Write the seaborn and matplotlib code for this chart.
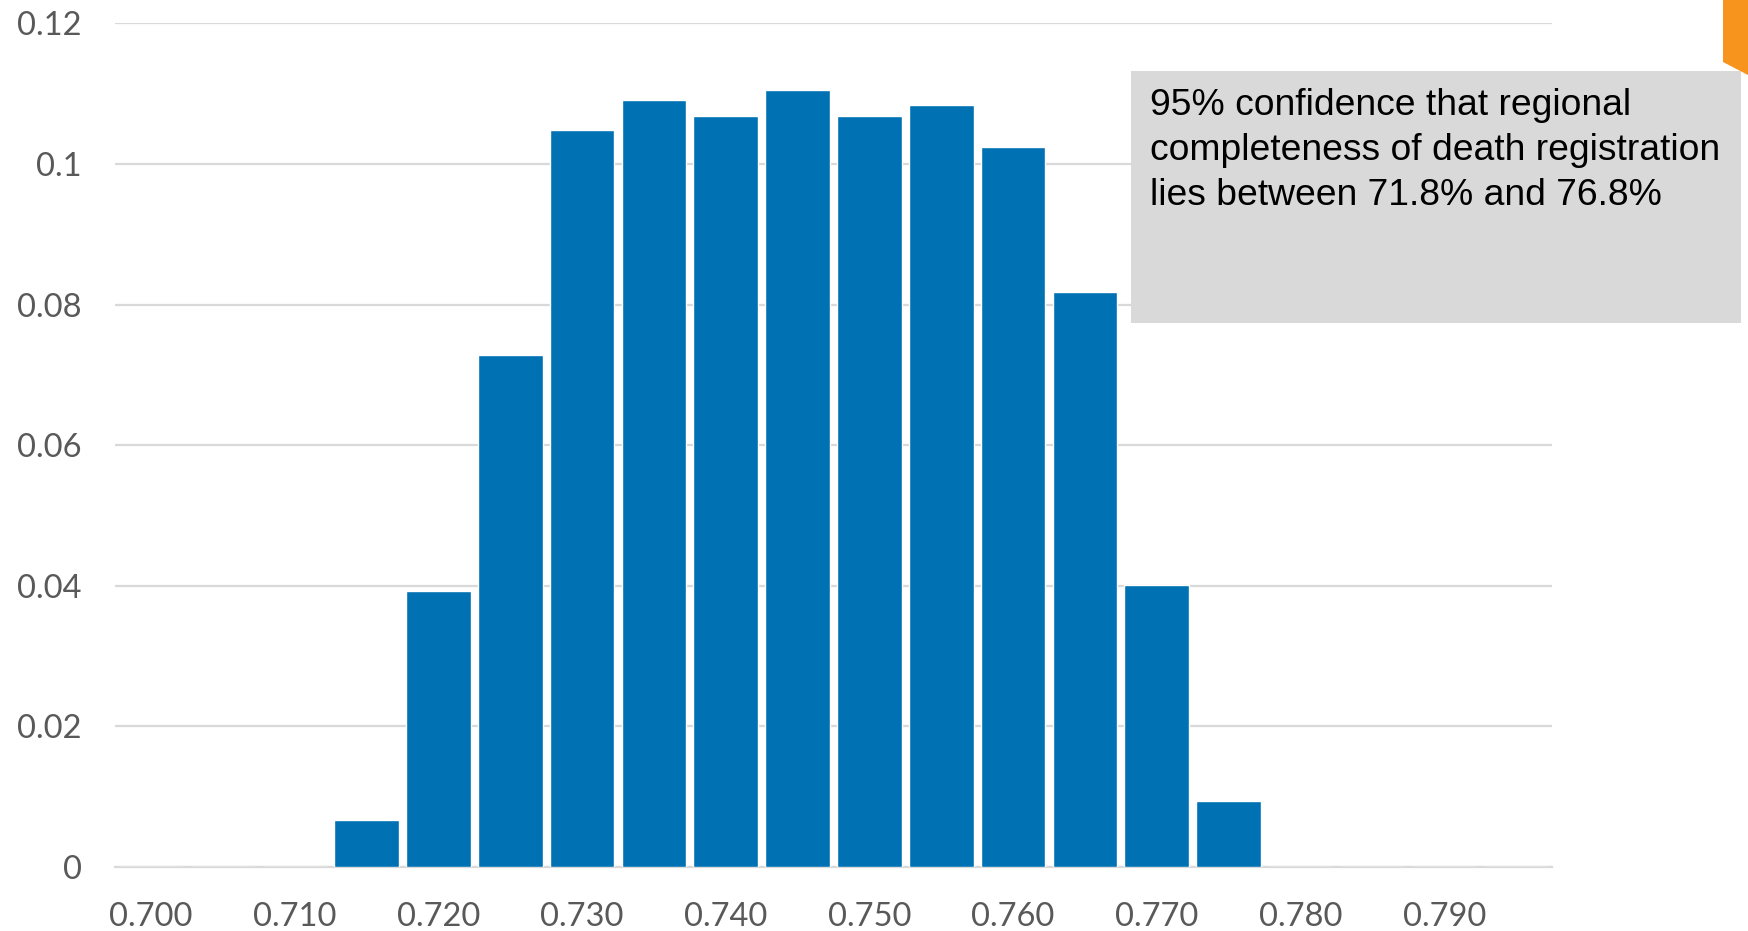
import matplotlib
matplotlib.use("Agg")
import matplotlib.pyplot as plt
import seaborn as sns
import pandas as pd
from matplotlib.patches import Rectangle, Polygon

categories = ["0.700", "0.705", "0.710", "0.715", "0.720", "0.725", "0.730", "0.735",
              "0.740", "0.745", "0.750", "0.755", "0.760", "0.765", "0.770", "0.775",
              "0.780", "0.785", "0.790", "0.795"]
values = [0, 0, 0, 0.0067, 0.0393, 0.0729, 0.1049, 0.1091, 0.1068, 0.1105,
          0.1068, 0.1084, 0.1024, 0.0818, 0.0401, 0.0094, 0, 0, 0, 0]
y_ticks = [0, 0.02, 0.04, 0.06, 0.08, 0.1, 0.12]
y_tick_labels = ["0", "0.02", "0.04", "0.06", "0.08", "0.1", "0.12"]
note = "95% confidence that regional\ncompleteness of death registration\nlies between 71.8% and 76.8%"

df = pd.DataFrame({"cat": categories, "val": values})

sns.set_style("white")
plt.rcParams["font.family"] = ["Lato", "DejaVu Sans"]

W, H = 1748, 931
fig = plt.figure(figsize=(W / 100, H / 100), dpi=100)
ax = fig.add_axes([115 / W, 1 - 867 / H, (1552 - 115) / W, (867 - 23.4) / H])

sns.barplot(data=df, x="cat", y="val", color="#0071B3", saturation=1, width=0.9,
            ax=ax, zorder=3)

ax.set_ylim(0, 0.12)
ax.set_xlim(-0.5, len(categories) - 0.5)
ax.set_yticks(y_ticks)
ax.set_yticklabels(y_tick_labels)
xt = list(range(0, len(categories), 2))
ax.set_xticks(xt)
ax.set_xticklabels([categories[i] for i in xt])
ax.tick_params(axis="both", length=0, labelsize=23.5, labelcolor="#595959")
ax.tick_params(axis="y", pad=24)
ax.tick_params(axis="x", pad=25)
ax.set_xlabel("")
ax.set_ylabel("")
ax.yaxis.grid(True, color="#D9D9D9", linewidth=1.6, zorder=0)
ax.set_axisbelow(True)
for s in ["left", "right", "top"]:
    ax.spines[s].set_visible(False)
ax.spines["bottom"].set_color("#D9D9D9")
ax.spines["bottom"].set_linewidth(1.6)

# annotation box
fig.patches.append(Rectangle((1131 / W, 1 - 323 / H), (1741 - 1131) / W, (323 - 71) / H,
                             transform=fig.transFigure, facecolor="#D9D9D9",
                             edgecolor="none", zorder=5))
fig.text(1150 / W, 1 - 88 / H, note, ha="left", va="top", fontsize=26.8,
         family=["Liberation Sans", "DejaVu Sans"], color="black", linespacing=1.37,
         zorder=6)

# orange corner decoration
fig.patches.append(Polygon([(1723 / W, 1), (1, 1), (1, 1 - 75 / H), (1723 / W, 1 - 62 / H)],
                           closed=True, transform=fig.transFigure,
                           facecolor="#F7941D", edgecolor="none", zorder=5))

fig.savefig("out.png", dpi=100)
